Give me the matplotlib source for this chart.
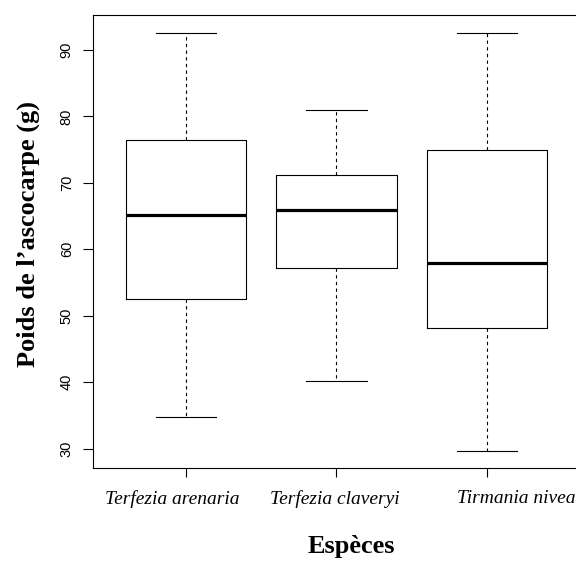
import matplotlib.pyplot as plt
from matplotlib.transforms import ScaledTranslation

# summary statistics per species (whisker low, Q1, median, Q3, whisker high)
species = ["Terfezia arenaria", "Terfezia claveryi", "Tirmania nivea"]
whislo = [34.8, 40.2, 29.65]
q1 = [52.5, 57.2, 48.2]
med = [65.2, 65.9, 57.95]
q3 = [76.4, 71.2, 74.95]
whishi = [92.5, 81.0, 92.6]
yticks = [30, 40, 50, 60, 70, 80, 90]

stats = [
    dict(whislo=lo, q1=a, med=m, q3=b, whishi=hi, fliers=[], label=s)
    for s, lo, a, m, b, hi in zip(species, whislo, q1, med, q3, whishi)
]

fig = plt.figure(figsize=(5.76, 5.61), dpi=100)
ax = fig.add_axes([0.162, 0.1663, 0.8444, 0.8064])

ax.bxp(
    stats,
    positions=[1, 2, 3],
    widths=0.8,
    capwidths=0.4,
    showfliers=False,
    boxprops=dict(color="black", linewidth=0.8),
    medianprops=dict(color="black", linewidth=2.3, solid_capstyle="butt"),
    whiskerprops=dict(color="black", linewidth=0.8, linestyle=(0, (3, 3))),
    capprops=dict(color="black", linewidth=0.8),
)

ax.set_xlim(0.38, 3.62)
ax.set_ylim(27.13, 95.2)
ax.set_yticks(yticks)
ax.set_yticklabels([str(v) for v in yticks], rotation=90, va="center",
                   family="Liberation Sans", fontsize=10.5)
ax.tick_params(axis="y", length=7, width=0.8, pad=7)
ax.tick_params(axis="x", length=6.8, width=0.8, pad=9)
ax.set_xticks([1, 2, 3])
ax.set_xticklabels(species, family="Liberation Serif", style="italic", fontsize=14)

# nudge the species names sideways
shifts = [-14, -2, 30]
for lab, dx in zip(ax.get_xticklabels(), shifts):
    lab.set_transform(lab.get_transform() + ScaledTranslation(dx / 100, 0, fig.dpi_scale_trans))

for side in ["left", "bottom", "top", "right"]:
    ax.spines[side].set_linewidth(0.8)

fig.text(28 / 576, 1 - 234 / 561, "Poids de l\u2019ascocarpe (g)", rotation=90,
         ha="center", va="center", family="Liberation Serif", weight="bold", fontsize=19)
fig.text(351 / 576, 1 - 547 / 561, "Esp\u00e8ces", ha="center", va="center",
         family="Liberation Serif", weight="bold", fontsize=19)

fig.savefig("out.png", dpi=100)
